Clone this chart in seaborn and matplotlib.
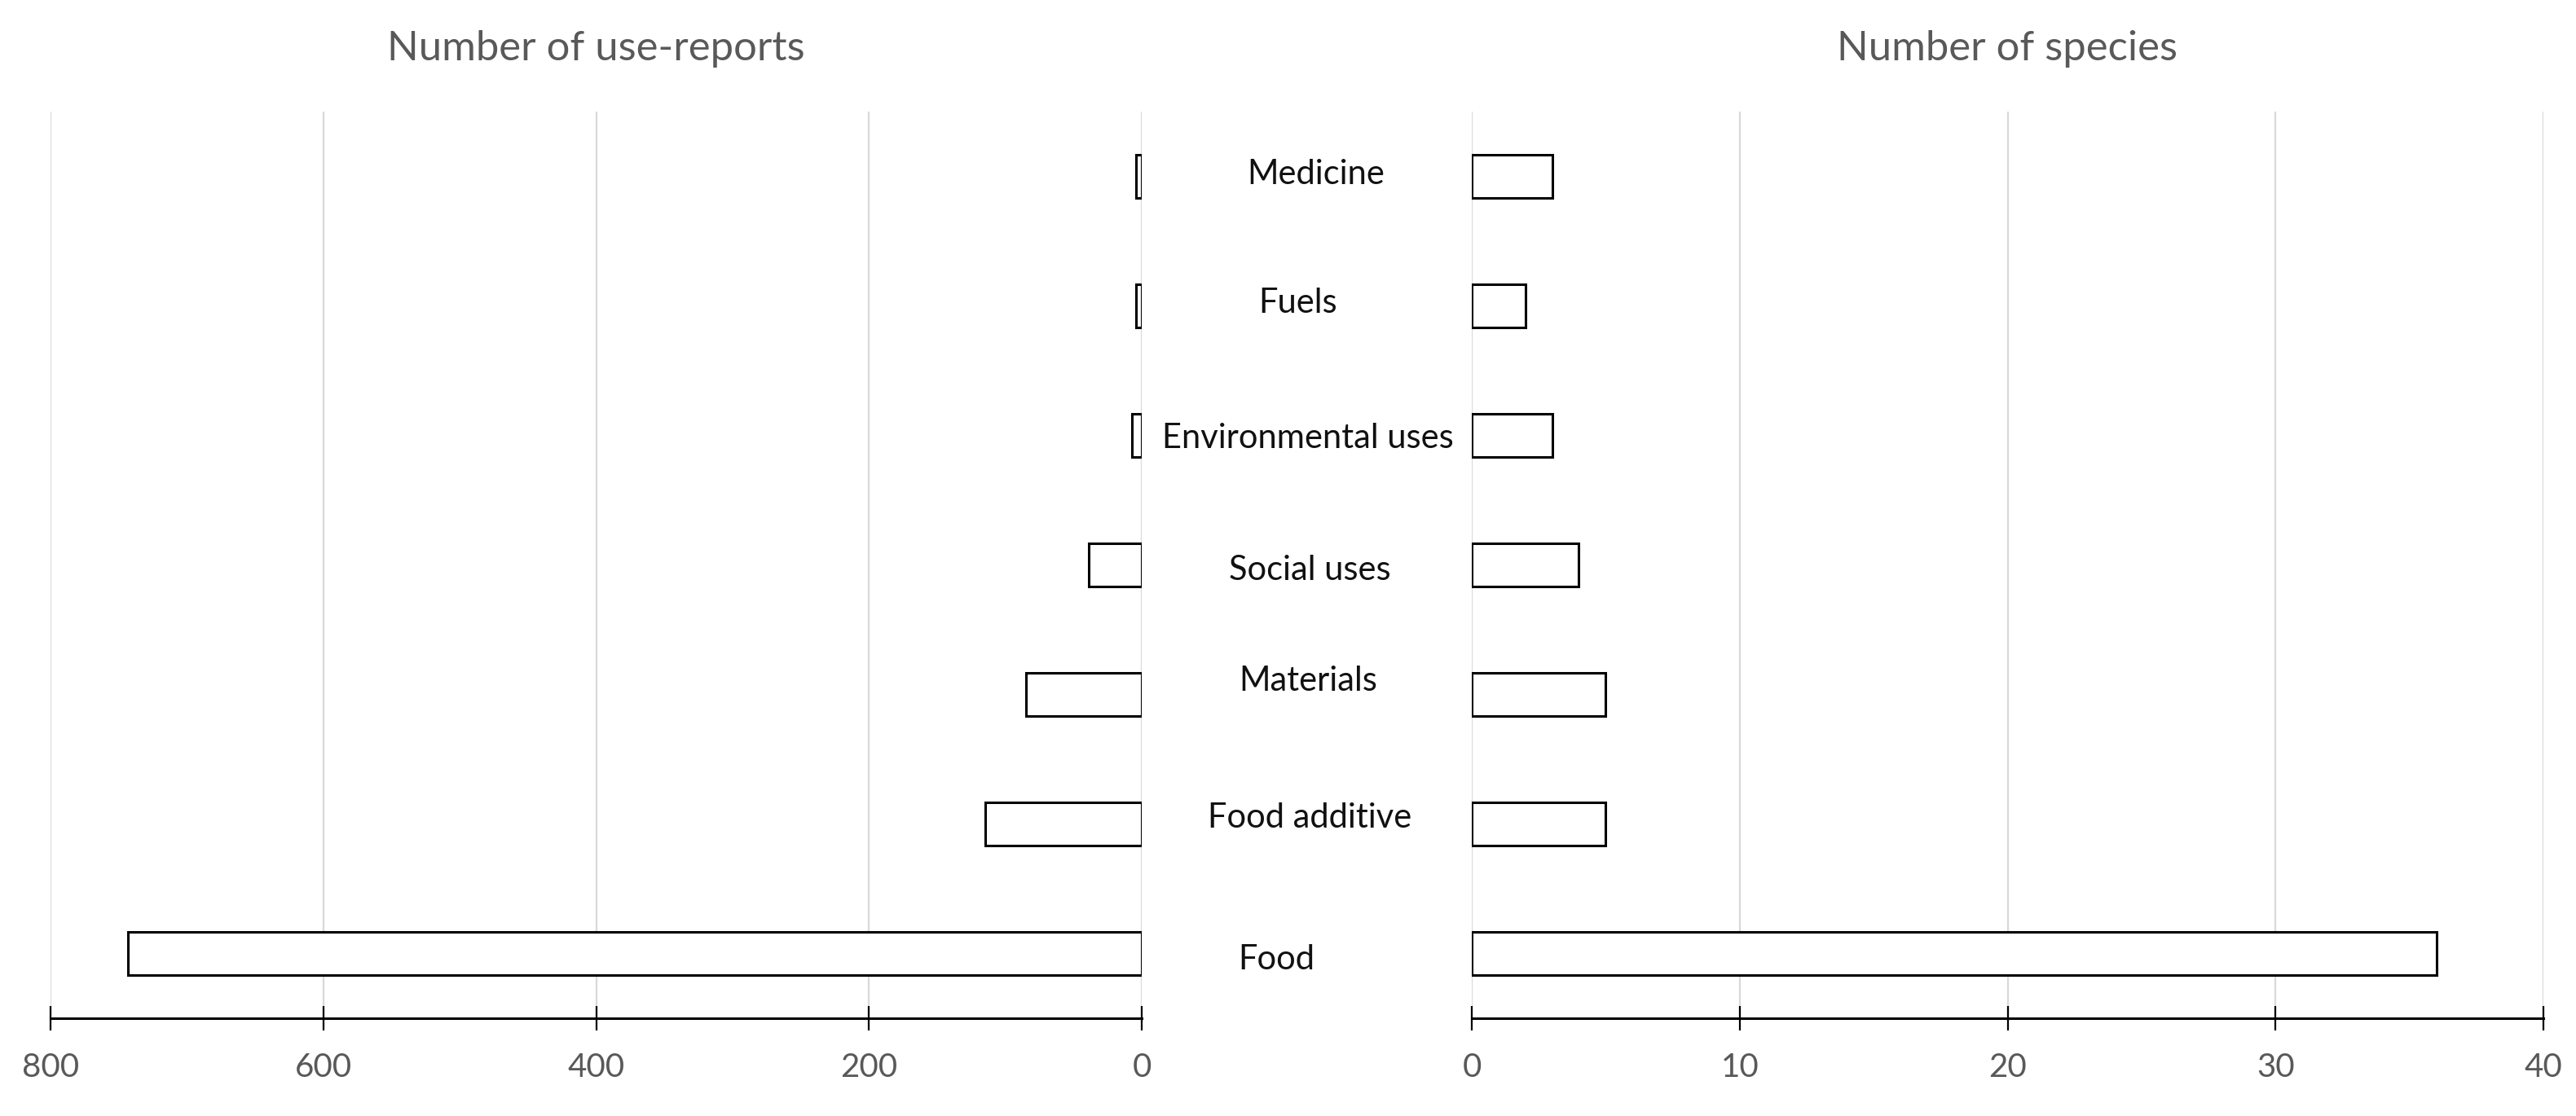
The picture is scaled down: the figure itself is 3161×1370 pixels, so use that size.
import numpy as np
import pandas as pd
import matplotlib
matplotlib.use("Agg")
import matplotlib.pyplot as plt
import matplotlib.transforms as mtransforms
import seaborn as sns

# data
categories = ["Medicine", "Fuels", "Environmental uses", "Social uses",
              "Materials", "Food additive", "Food"]
use_reports = [4, 4, 7, 39, 85, 115, 743]
species = [3, 2, 3, 4, 5, 5, 36]

left_ticks = [0, 200, 400, 600, 800]
right_ticks = [0, 10, 20, 30, 40]

# label placement tweaks (pixels) to mimic the original layout
label_x_px = [1615, 1593, 1605, 1607, 1605, 1607, 1566]
label_dy_px = [3, 3, -3, -7, 17, 7, -7]

sns.set_theme(style="white")
plt.rcParams['font.family'] = ['Lato', 'DejaVu Sans']

W, H = 3161, 1370
fig = plt.figure(figsize=(W / 100, H / 100), dpi=100)
bottom = 1 - 1250 / H
top = 1 - 137 / H
ax_l = fig.add_axes([62 / W, bottom, (1401 - 62) / W, top - bottom])
ax_r = fig.add_axes([1806 / W, bottom, (3121 - 1806) / W, top - bottom])

df = pd.DataFrame({"category": categories, "reports": use_reports, "species": species})

gray = "#595959"
grid_c = "#d9d9d9"

for ax, col, ticks, lim in [
    (ax_l, "reports", left_ticks, (800, 0)),
    (ax_r, "species", right_ticks, (0, 40)),
]:
    sns.barplot(data=df, x=col, y="category", order=categories, ax=ax,
                color="white", edgecolor="black", linewidth=2.2, width=0.33,
                saturation=1)
    ax.set_xlim(*lim)
    ax.set_ylim(6.5, -0.5)
    ax.set_xticks(ticks)
    ax.set_yticks([])
    ax.set_xlabel("")
    ax.set_ylabel("")
    for t in ticks:
        ax.axvline(t, color=grid_c, lw=1.6, zorder=0)
    for s in ["top", "left", "right"]:
        ax.spines[s].set_visible(False)
    ax.spines["bottom"].set_color("black")
    ax.spines["bottom"].set_linewidth(2.2)
    ax.tick_params(axis="x", direction="inout", length=22, width=1.6,
                   color="black", labelsize=29, labelcolor=gray, pad=19,
                   bottom=True)

# panel titles
fig.text((62 + 1401) / 2 / W, 1 - 60 / H, "Number of use-reports",
         ha="center", va="center", fontsize=36.5, color=gray)
fig.text((1806 + 3121) / 2 / W, 1 - 60 / H, "Number of species",
         ha="center", va="center", fontsize=36.5, color=gray)

# category labels between the two panels
trans = mtransforms.blended_transform_factory(fig.transFigure, ax_l.transData)
for i, name in enumerate(categories):
    ax_l.annotate(name, xy=(label_x_px[i] / W, i), xycoords=trans,
                  xytext=(0, label_dy_px[i]), textcoords="offset pixels",
                  ha="center", va="center", fontsize=30, color="#111111",
                  annotation_clip=False)

fig.savefig("out.png", dpi=100)
